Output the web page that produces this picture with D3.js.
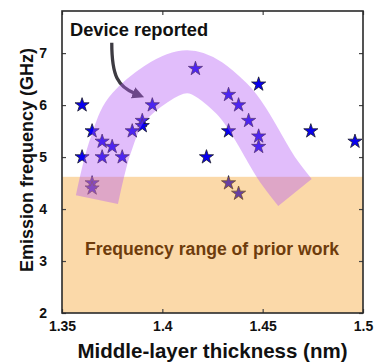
<!DOCTYPE html>
<html>
<head>
<meta charset="utf-8">
<style>
  body { margin: 0; background: white; }
  svg { display: block; }
  text { font-family: Arial, "Liberation Sans", Helvetica, sans-serif; font-weight: bold; }
</style>
</head>
<body>
<svg id="chart" width="378" height="362"></svg>
<script src="https://d3js.org/d3.v7.min.js"></script>
<script>
// measured points: middle-layer thickness (nm) vs emission frequency (GHz)
const thickness = [1.360, 1.360, 1.365, 1.370, 1.370, 1.375, 1.380, 1.365, 1.365, 1.385,
                   1.390, 1.390, 1.395, 1.4165, 1.422, 1.433, 1.433, 1.438, 1.443, 1.448,
                   1.448, 1.448, 1.433, 1.438, 1.474, 1.496];
const frequency = [6.0, 5.0, 5.5, 5.3, 5.0, 5.2, 5.0, 4.5, 4.4, 5.5,
                   5.7, 5.6, 6.0, 6.7, 5.0, 6.2, 5.5, 6.0, 5.7, 6.4,
                   5.4, 5.2, 4.5, 4.3, 5.5, 5.3];

// guide band ("device reported") centre line
const bandX = [1.3674, 1.3744, 1.3832, 1.4123, 1.4344, 1.4574, 1.4661];
const bandY = [4.18, 5.24, 5.96, 6.64, 6.13, 4.76, 4.32];

// prior work range
const priorMin = 2, priorMax = 4.62;

const xTicks = [1.35, 1.4, 1.45, 1.5];
const xTickLabels = ["1.35", "1.4", "1.45", "1.5"];
const yTicks = [2, 3, 4, 5, 6, 7];

const W = 378, H = 362;
const m = {left: 62, right: 15, top: 11, bottom: 49};

const svg = d3.select("#chart");
const x = d3.scaleLinear().domain([1.35, 1.5]).range([m.left, W - m.right]);
const y = d3.scaleLinear().domain([2, 7.81]).range([H - m.bottom, m.top]);

// arrow (under everything else)
const defs = svg.append("defs");
defs.append("marker")
  .attr("id", "head").attr("viewBox", "0 0 10 10")
  .attr("refX", 2).attr("refY", 5)
  .attr("markerWidth", 3.6).attr("markerHeight", 3.6)
  .attr("orient", "auto")
  .append("path").attr("d", "M0,0 L10,5 L0,10 Z").attr("fill", "#3d3b42");

const a0 = [x(1.3748), y(7.2)], a1 = [x(1.3748), y(6.55)], a2 = [x(1.378), y(6.35)], a3 = [x(1.3865), y(6.22)];
svg.append("path")
  .attr("d", `M${a0} C${a1} ${a2} ${a3}`)
  .attr("fill", "none").attr("stroke", "#3d3b42").attr("stroke-width", 3.3)
  .attr("marker-end", "url(#head)");

// stars
svg.append("g").selectAll("path")
  .data(thickness.map((t, i) => [t, frequency[i]]))
  .join("path")
  .attr("d", d3.symbol(d3.symbolStar, 62))
  .attr("transform", d => `translate(${x(d[0])},${y(d[1])})`)
  .attr("fill", "rgb(8,0,240)")
  .attr("stroke", "#1a1a2a").attr("stroke-width", 0.8);

// prior work region
svg.append("rect")
  .attr("x", x(1.35)).attr("width", x(1.5) - x(1.35))
  .attr("y", y(priorMax)).attr("height", y(priorMin) - y(priorMax))
  .attr("fill", "rgb(245,160,40)").attr("fill-opacity", 0.4);

// band
const line = d3.line().x(d => x(d[0])).y(d => y(d[1])).curve(d3.curveCatmullRom.alpha(0.5));
svg.append("path")
  .attr("d", line(bandX.map((b, i) => [b, bandY[i]])))
  .attr("fill", "none")
  .attr("stroke", "rgb(180,90,245)").attr("stroke-opacity", 0.4)
  .attr("stroke-width", 43).attr("stroke-linecap", "butt");

// axes
svg.append("g").attr("transform", `translate(0,${H - m.bottom})`)
  .call(d3.axisBottom(x).tickValues(xTicks).tickFormat((d, i) => xTickLabels[i]).tickSize(-4).tickPadding(8));
svg.append("g").attr("transform", `translate(${m.left},0)`)
  .call(d3.axisLeft(y).tickValues(yTicks).tickFormat(d3.format("d")).tickSize(-4).tickPadding(15));
svg.append("g").attr("transform", `translate(0,${m.top})`)
  .call(d3.axisTop(x).tickValues(xTicks).tickSize(-4).tickFormat(""));
svg.append("g").attr("transform", `translate(${W - m.right},0)`)
  .call(d3.axisRight(y).tickValues(yTicks).tickSize(-4).tickFormat(""));
svg.selectAll(".domain").remove();
svg.selectAll(".tick line").attr("stroke", "#444").attr("stroke-width", 1.2);
svg.selectAll(".tick text").attr("font-size", 14).attr("fill", "#111");

svg.append("rect")
  .attr("x", m.left).attr("y", m.top)
  .attr("width", W - m.left - m.right).attr("height", H - m.top - m.bottom)
  .attr("fill", "none").attr("stroke", "#2a2a2a").attr("stroke-width", 1.6);

// annotations
svg.append("text").attr("x", 70).attr("y", 36)
  .attr("font-size", 18.3).attr("fill", "#111").text("Device reported");
svg.append("text").attr("x", 212).attr("y", 255)
  .attr("text-anchor", "middle").attr("font-size", 17.6).attr("fill", "rgb(110,60,12)")
  .text("Frequency range of prior work");

// axis titles
svg.append("text").attr("x", 212.5).attr("y", 358)
  .attr("text-anchor", "middle").attr("font-size", 20.5).attr("fill", "#111")
  .text("Middle-layer thickness (nm)");
svg.append("text").attr("transform", "translate(33,160) rotate(-90)")
  .attr("text-anchor", "middle").attr("font-size", 18).attr("fill", "#111")
  .text("Emission frequency (GHz)");
</script>
</body>
</html>
